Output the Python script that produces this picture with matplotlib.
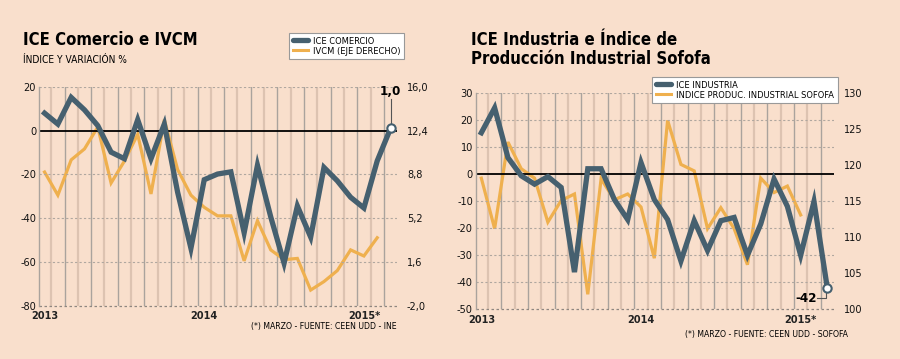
import matplotlib
matplotlib.use("Agg")
import matplotlib.pyplot as plt
import numpy as np

# datos mensuales ene-2013 a mar-2015
months = np.arange(27)
year_labels = ["2013", "2014", "2015*"]
year_pos = [0, 12, 24]

ice_comercio = [8.0, 3.0, 15.2, 9.5, 2.3, -9.8, -12.8, 5.0, -12.8, 3.0, -28.1, -53.7,
                -22.4, -19.8, -18.8, -46.6, -15.8, -39.4, -60.5, -34.4, -48.6, -16.8,
                -22.9, -30.4, -35.3, -13.8, 1.0]
ivcm = [9.0, 7.1, 10.0, 10.9, 12.7, 8.1, 9.9, 12.1, 7.2, 13.3, 9.2, 7.1,
        6.1, 5.4, 5.4, 1.7, 5.0, 2.6, 1.8, 1.9, -0.7, 0.0, 0.9, 2.6, 2.1, 3.6, np.nan]

ice_industria = [15.3, 24.5, 6.1, -0.6, -3.7, -0.9, -4.9, -36.2, 2.0, 2.0, -9.4, -16.8,
                 4.3, -9.4, -16.8, -32.1, -17.2, -28.2, -17.2, -16.0, -30.0, -18.4,
                 -1.8, -11.9, -30.0, -10.1, -42.0]
sofofa = [118.2, 111.2, 123.2, 119.5, 118.2, 112.1, 115.1, 116.0, 102.1, 118.1, 115.2, 116.0,
          114.2, 107.1, 126.2, 120.1, 119.2, 111.2, 114.1, 111.2, 106.2, 118.2, 116.2, 117.1,
          113.1, np.nan, np.nan]

BG = "#f9dfcc"
BLUE = "#46606f"
ORANGE = "#efb04e"

plt.rcParams["font.family"] = ["DejaVu Sans"]
plt.rcParams["font.stretch"] = "condensed"

fig = plt.figure(figsize=(9, 3.59), dpi=100, facecolor=BG)


def base_axes(rect, ylim, yticks, ylim2, yticks2, ylabels2):
    # ax2 (eje derecho) va abajo con el fondo y la grilla; ax arriba
    ax2 = fig.add_axes(rect)
    ax2.set_facecolor(BG)
    ax = fig.add_axes(rect, sharex=ax2)
    ax.patch.set_visible(False)
    ax.set_xlim(-0.42, 26.5)
    ax.set_ylim(*ylim)
    ax2.set_ylim(*ylim2)
    for i in range(26):
        if i % 2 == 0:
            ax2.axvline(i + 0.5, color="#ddc3b1", lw=1.6, zorder=0)
        else:
            ax2.axvline(i + 0.5, color="#aaa39d", lw=1.0, zorder=0)
    for y in yticks[1:]:
        if y != 0:
            ax.axhline(y, color="#b0a79f", lw=0.8, ls=(0, (2, 2)), zorder=0)
    ax.axhline(0, color="black", lw=1.3, zorder=1)
    ax.axhline(ylim[0], color="#8f8780", lw=0.9, ls=(0, (2, 2)), zorder=1, clip_on=False)
    for a in (ax, ax2):
        for s in ["top", "right", "bottom"]:
            a.spines[s].set_visible(False)
    ax2.spines["left"].set_visible(False)
    ax.spines["left"].set_color("#aaa39d")
    ax.spines["left"].set_linewidth(1.0)
    ax.set_yticks(yticks)
    ax.set_yticklabels([str(v) for v in yticks])
    ax.tick_params(axis="y", length=0, pad=2, labelsize=7.8, labelcolor="#111111")
    ax.set_xticks(year_pos)
    ax.set_xticklabels(year_labels, fontsize=7.8, fontweight="bold", color="#222222")
    ax.tick_params(axis="x", length=0, pad=4)
    ax2.yaxis.tick_right()
    ax2.set_yticks(yticks2)
    ax2.set_yticklabels(ylabels2)
    ax2.tick_params(axis="y", length=0, pad=7, labelsize=7.8, labelcolor="#111111")
    ax2.tick_params(axis="x", bottom=False, labelbottom=False)
    return ax, ax2


def add_legend(ax, labels, x, y):
    leg = ax.legend(handles=[plt.Line2D([], [], color=BLUE, lw=3.8, solid_capstyle="round"),
                             plt.Line2D([], [], color=ORANGE, lw=2.2)],
                    labels=labels, loc="upper left", bbox_to_anchor=(x / 900, 1 - y / 359),
                    bbox_transform=fig.transFigure, borderaxespad=0, fancybox=False,
                    framealpha=1, edgecolor="#999999", fontsize=6.7,
                    handlelength=1.6, handletextpad=0.6, borderpad=0.4, labelspacing=0.1)
    leg.get_frame().set_linewidth(0.8)
    leg.set_zorder(10)


# ---- grafico izquierdo ----
axL, axL2 = base_axes([0.0433, 0.148, 0.398, 0.61], (-80, 20), [-80, -60, -40, -20, 0, 20],
                      (-2.0, 16.0), [-2.0, 1.6, 5.2, 8.8, 12.4, 16.0],
                      ["-2,0", "1,6", "5,2", "8,8", "12,4", "16,0"])
axL2.plot(months, ivcm, color=ORANGE, lw=2.3, solid_joinstyle="miter", zorder=2)
axL.plot(months, ice_comercio, color=BLUE, lw=3.8, solid_joinstyle="miter", zorder=3)
axL.plot(months[-1], ice_comercio[-1], "o", ms=6, mfc="white", mec=BLUE, mew=1.5, zorder=4)
axL.plot([months[-1], months[-1]], [ice_comercio[-1], 14.5], color="#555555", lw=0.8, zorder=2)
axL.text(months[-1], 15.0, "1,0", ha="center", va="bottom", fontsize=9.5, fontweight="bold")

fig.text(0.0255, 1 - 45 / 359, "ICE Comercio e IVCM", fontsize=12, fontweight="bold",
         va="baseline")
fig.text(0.0255, 1 - 63 / 359, "ÍNDICE Y VARIACIÓN %", fontsize=7.3, va="baseline")
add_legend(axL, ["ICE COMERCIO", "IVCM (EJE DERECHO)"], 289, 33)
fig.text(397 / 900, 1 - 326 / 359, "(*) MARZO - FUENTE: CEEN UDD - INE", fontsize=6.2,
         ha="right", va="center")

# ---- grafico derecho ----
axR, axR2 = base_axes([0.5286, 0.138, 0.398, 0.603], (-50, 30),
                      [-50, -40, -30, -20, -10, 0, 10, 20, 30],
                      (100, 130), [100, 105, 110, 115, 120, 125, 130],
                      ["100", "105", "110", "115", "120", "125", "130"])
axR2.plot(months, sofofa, color=ORANGE, lw=2.3, solid_joinstyle="miter", zorder=2)
axR.plot(months, ice_industria, color=BLUE, lw=3.8, solid_joinstyle="miter", zorder=3)
axR.plot(months[-1], ice_industria[-1], "o", ms=6, mfc="white", mec=BLUE, mew=1.5, zorder=4)
axR.plot([months[-1] - 0.1, months[-1] - 0.1, months[-1] - 0.75],
         [ice_industria[-1] - 1.5, -45.8, -45.8], color="#555555", lw=0.8, zorder=2)
axR.text(months[-1] - 0.8, -45.8, "-42", ha="right", va="center", fontsize=9.5,
         fontweight="bold")

fig.text(471 / 900, 1 - 45 / 359, "ICE Industria e Índice de", fontsize=12,
         fontweight="bold", va="baseline")
fig.text(471 / 900, 1 - 64 / 359, "Producción Industrial Sofofa", fontsize=12,
         fontweight="bold", va="baseline")
add_legend(axR, ["ICE INDUSTRIA", "INDICE PRODUC. INDUSTRIAL SOFOFA"], 652, 77)
fig.text(848 / 900, 1 - 334 / 359, "(*) MARZO - FUENTE: CEEN UDD - SOFOFA", fontsize=6.2,
         ha="right", va="center")

fig.savefig("out.png", dpi=100, facecolor=BG)
